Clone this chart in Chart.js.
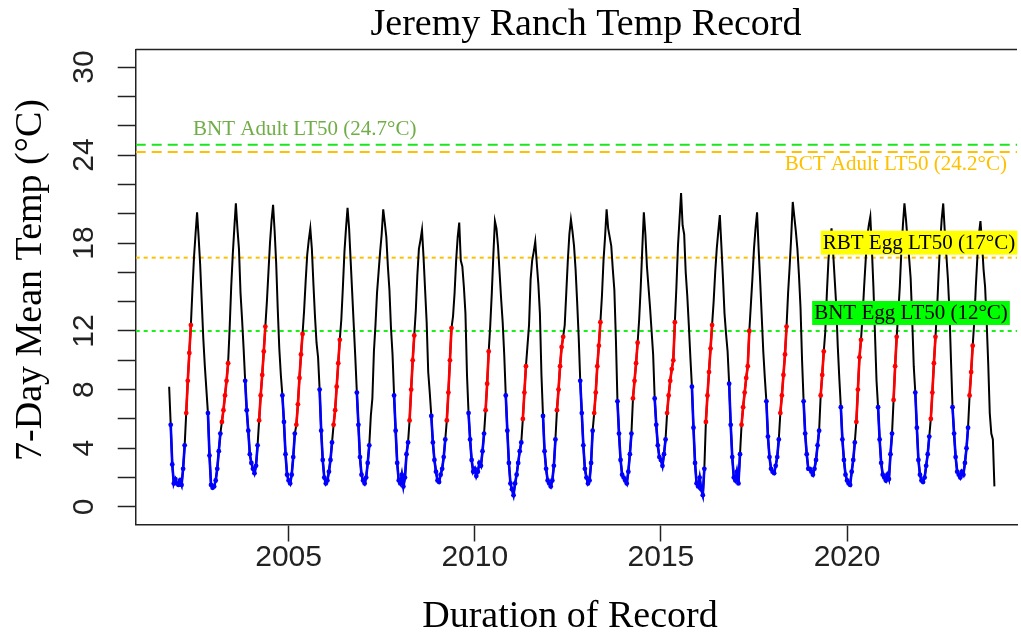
<!DOCTYPE html>
<html>
<head>
<meta charset="utf-8">
<script src="https://cdn.jsdelivr.net/npm/chart.js@4.4.1/dist/chart.umd.min.js"></script>
<style>
  html, body { margin: 0; padding: 0; background: #fff; }
  canvas { display: block; }
</style>
</head>
<body>
<canvas id="tempChart" width="1021" height="635"></canvas>
<script>
// 7-day mean temp, one value per half month (1st, 16th)
var years = [2001, 2002, 2003, 2004, 2005, 2006, 2007, 2008, 2009, 2010, 2011, 2012,
             2013, 2014, 2015, 2016, 2017, 2018, 2019, 2020, 2021, 2022, 2023];

var t2001 = [null, null, null, null, null, null, null, null, null, null, null, null,
             null, null, null, null, null, null, null, 8.2, 5.6, 2.9, 1.6, 1.9];
var t2002 = [1.6, 1.5, 1.8, 1.5, 2.6, 4.2, 6.4, 8.6, 10.5, 12.4, 14.8, 17.0, 18.6, 20.1, 18.4, 16.5, 14.0, 11.5, 9.6, 8.0, 6.4, 3.5, 1.5, 1.3];
var t2003 = [1.4, 1.8, 2.6, 3.8, 5.0, 5.8, 6.6, 7.6, 8.6, 9.8, 12.2, 15.0, 17.2, 19.0, 20.7, 19.0, 17.6, 14.6, 12.8, 10.8, 8.6, 6.6, 5.2, 3.6];
var t2004 = [3.0, 2.6, 2.3, 2.8, 4.2, 5.9, 7.6, 9.0, 10.6, 12.3, 14.0, 16.0, 18.0, 19.5, 20.6, 18.8, 16.6, 13.5, 10.8, 9.0, 7.6, 5.8, 3.6, 2.2];
var t2005 = [1.8, 1.6, 2.2, 3.4, 5.0, 5.6, 7.0, 8.8, 10.4, 11.8, 13.4, 15.4, 17.2, 18.2, 19.0, 17.6, 15.2, 13.0, 11.2, 10.2, 8.0, 5.2, 3.2, 2.0];
var t2006 = [1.6, 1.8, 2.4, 3.2, 4.4, 5.6, 6.6, 8.2, 9.8, 11.4, 12.8, 15.0, 17.4, 19.0, 20.4, 19.0, 16.8, 14.6, 12.4, 10.2, 7.8, 5.6, 3.4, 2.2];
var t2007 = [1.8, 1.6, 2.0, 3.0, 4.2, 6.2, 7.4, 10.6, 12.4, 14.6, 16.0, 17.4, 18.6, 20.3, 19.4, 18.4, 16.4, 14.8, 12.2, 10.4, 7.6, 5.2, 3.0, 1.8];
var t2008 = [1.6, 2.2, 1.4, 2.0, 3.6, 4.4, 5.9, 8.0, 10.0, 11.7, 13.4, 15.8, 17.6, 18.2, 18.9, 17.0, 14.8, 12.6, 9.2, 7.8, 6.2, 4.4, 3.2, 2.4];
var t2009 = [1.8, 1.7, 2.2, 2.6, 3.4, 4.6, 5.9, 7.8, 10.0, 12.2, 13.0, 14.6, 16.8, 18.4, 19.4, 16.8, 16.4, 15.0, 13.2, 9.0, 6.4, 4.6, 3.2, 2.4];
var t2010 = [2.6, 2.1, 2.4, 3.0, 2.8, 3.8, 5.0, 6.6, 8.4, 10.6, 12.4, 14.6, 17.2, 19.5, 19.0, 17.8, 16.0, 14.2, 12.6, 10.4, 7.6, 5.2, 3.0, 1.6];
var t2011 = [1.2, 0.8, 1.6, 2.2, 3.0, 3.8, 4.4, 6.0, 7.8, 9.6, 11.0, 12.4, 15.5, 16.8, 17.4, 18.1, 16.6, 15.2, 13.2, 9.0, 6.2, 3.8, 2.6, 1.8];
var t2012 = [1.6, 1.4, 1.8, 2.8, 4.6, 6.6, 8.0, 9.6, 10.9, 11.6, 12.4, 14.6, 16.8, 18.6, 19.6, 18.8, 17.8, 16.2, 14.0, 11.6, 8.6, 6.4, 4.2, 2.6];
var t2013 = [2.0, 1.6, 1.8, 3.0, 5.2, 6.4, 7.8, 9.6, 11.0, 12.6, 14.4, 16.8, 18.4, 20.3, 19.0, 18.4, 17.8, 16.2, 14.8, 11.4, 7.2, 5.0, 3.2, 2.2];
var t2014 = [2.0, 1.8, 1.6, 2.4, 3.6, 5.0, 7.4, 8.6, 9.8, 11.2, 12.8, 15.0, 17.6, 20.1, 18.6, 16.4, 15.0, 13.6, 12.0, 10.4, 7.4, 5.6, 4.2, 3.4];
var t2015 = [3.2, 2.8, 3.6, 4.6, 6.4, 7.6, 8.6, 9.4, 10.0, 12.6, 15.0, 17.8, 19.6, 21.4, 19.2, 18.6, 16.0, 14.4, 12.4, 10.2, 8.2, 5.4, 3.0, 1.6];
var t2016 = [1.4, 2.0, 1.2, 0.8, 2.6, 5.8, 7.6, 9.2, 10.8, 12.4, 14.0, 16.0, 17.6, 18.8, 19.9, 17.8, 15.6, 13.2, 11.8, 10.6, 8.4, 5.6, 3.4, 2.0];
var t2017 = [1.8, 2.4, 1.6, 3.6, 5.6, 6.8, 7.8, 8.8, 9.6, 12.0, 13.8, 15.6, 17.6, 19.0, 20.1, 17.6, 15.4, 13.0, 10.6, 8.8, 7.2, 4.8, 3.4, 2.6];
var t2018 = [2.4, 2.3, 2.8, 3.4, 4.6, 6.4, 7.6, 9.0, 10.4, 12.3, 14.6, 16.4, 18.4, 20.8, 19.8, 18.8, 17.6, 15.8, 13.6, 10.0, 7.2, 5.0, 3.6, 2.6];
var t2019 = [2.6, 2.4, 2.2, 2.6, 3.2, 4.2, 5.2, 7.6, 9.0, 10.6, 12.0, 14.6, 16.8, 18.2, 19.0, 17.4, 15.6, 13.8, 11.0, 8.8, 6.8, 4.6, 3.2, 2.2];
var t2020 = [1.8, 1.6, 1.5, 2.4, 3.2, 4.4, 5.8, 8.0, 10.2, 11.4, 13.0, 15.0, 16.8, 18.4, 19.2, 19.8, 17.6, 15.0, 11.8, 8.6, 6.8, 4.6, 3.0, 2.2];
var t2021 = [2.0, 1.8, 2.2, 1.9, 3.6, 5.0, 7.3, 9.6, 11.6, 13.2, 15.0, 17.4, 19.2, 20.7, 19.6, 18.2, 17.0, 15.6, 12.8, 9.6, 7.8, 5.4, 3.2, 2.2];
var t2022 = [1.8, 1.7, 2.0, 2.8, 3.6, 4.8, 6.0, 7.8, 9.8, 11.6, 13.4, 15.8, 18.0, 19.6, 20.7, 18.8, 17.2, 15.6, 13.4, 10.0, 6.8, 5.0, 3.4, 2.4];
var t2023 = [2.2, 2.0, 2.4, 2.2, 3.0, 4.0, 5.4, 7.6, 9.2, 11.0, 12.6, 15.0, 17.0, 18.6, 19.5, 18.0, 16.2, 15.0, 12.6, 9.8, 6.4, 5.0, 4.6, 1.4];

var yearTemps = [t2001, t2002, t2003, t2004, t2005, t2006, t2007, t2008, t2009, t2010, t2011, t2012,
                 t2013, t2014, t2015, t2016, t2017, t2018, t2019, t2020, t2021, t2022, t2023];

// reference lines
var limitValues = [24.7, 24.2, 17, 12];
var limitLabels = ['BNT Adult LT50 (24.7°C)', 'BCT Adult LT50 (24.2°C)', 'RBT Egg LT50 (17°C)', 'BNT Egg LT50 (12°C)'];

var yTickValues = [0, 2, 4, 6, 8, 10, 12, 14, 16, 18, 20, 22, 24, 26, 28, 30];
var yTickLabels = [0, 4, 8, 12, 18, 24, 30];
var xTickYears = [2005, 2010, 2015, 2020];

// egg period colouring
var bntEggLimit = 5.6;     // winter points below this are blue
var rbtEggRange = [5.6, 12.6];
var rbtSkipYears = [2007];
var bntEggEnd = 2023.8;

var allPts = [], bntPts = [], rbtPts = [];
years.forEach(function (yr, k) {
  yearTemps[k].forEach(function (v, i) {
    if (v === null) return;
    var x = yr + i / 24;
    var isBlue = (i >= 20 || (i <= 7 && v < bntEggLimit)) && x < bntEggEnd;
    var isRed = !isBlue && i >= 3 && i <= 9 && v >= rbtEggRange[0] && v <= rbtEggRange[1] &&
                rbtSkipYears.indexOf(yr) < 0;
    allPts.push({x: x, y: v});
    bntPts.push({x: x, y: isBlue ? v : null});
    rbtPts.push({x: x, y: isRed ? v : null});
  });
});

var serif = '"Liberation Serif", "Times New Roman", serif';
var sans = '"Liberation Sans", Arial, sans-serif';

var decor = {
  id: 'decor',
  beforeDatasetsDraw: function (chart) {
    var ctx = chart.ctx, a = chart.chartArea, ys = chart.scales.y;
    var colors = ['#19e619', '#ffc000', '#ffc000', '#19f019'];
    var dashes = [[10, 6], [10, 6], [4, 4], [4, 4]];
    ctx.save();
    ctx.beginPath();
    ctx.rect(a.left, a.top, a.right - a.left, a.bottom - a.top);
    ctx.clip();
    limitValues.forEach(function (v, i) {
      var py = ys.getPixelForValue(v);
      ctx.strokeStyle = colors[i];
      ctx.lineWidth = 2;
      ctx.setLineDash(dashes[i]);
      ctx.beginPath();
      ctx.moveTo(a.left, py);
      ctx.lineTo(a.right, py);
      ctx.stroke();
    });
    ctx.restore();
  },
  afterDatasetsDraw: function (chart) {
    var ctx = chart.ctx, ys = chart.scales.y;
    ctx.save();
    ctx.font = '21px ' + serif;
    ctx.textBaseline = 'middle';

    ctx.fillStyle = '#70ad47';
    ctx.textAlign = 'left';
    ctx.fillText(limitLabels[0], 193, ys.getPixelForValue(limitValues[0]) - 15);

    ctx.fillStyle = '#ffc000';
    ctx.textAlign = 'right';
    ctx.fillText(limitLabels[1], 1007, ys.getPixelForValue(limitValues[1]) + 12);

    // boxed labels
    var boxed = [[2, '#ffff00', 919, 15], [3, '#00ff00', 911, 18]];
    boxed.forEach(function (b) {
      var txt = limitLabels[b[0]];
      var w = ctx.measureText(txt).width + 4;
      var cy = ys.getPixelForValue(limitValues[b[0]]) - b[3];
      ctx.fillStyle = b[1];
      ctx.fillRect(b[2] - w / 2, cy - 12, w, 24);
      ctx.fillStyle = '#000';
      ctx.textAlign = 'center';
      ctx.fillText(txt, b[2], cy + 1);
    });
    ctx.restore();
  },
  afterDraw: function (chart) {
    var ctx = chart.ctx, a = chart.chartArea, ys = chart.scales.y;
    ctx.save();
    // top of the box
    ctx.strokeStyle = '#222';
    ctx.lineWidth = 1.5;
    ctx.beginPath();
    ctx.moveTo(a.left, a.top);
    ctx.lineTo(a.right, a.top);
    ctx.stroke();

    // rotated y tick labels
    ctx.fillStyle = '#222';
    ctx.font = '30px ' + sans;
    ctx.textAlign = 'center';
    ctx.textBaseline = 'alphabetic';
    yTickLabels.forEach(function (v) {
      ctx.save();
      ctx.translate(93, ys.getPixelForValue(v));
      ctx.rotate(-Math.PI / 2);
      ctx.fillText(String(v), 0, 0);
      ctx.restore();
    });

    ctx.fillStyle = '#000';
    ctx.font = '38px ' + serif;
    ctx.fillText('Jeremy Ranch Temp Record', 586, 35);
    ctx.fillText('Duration of Record', 570, 627);

    ctx.save();
    ctx.translate(41, 280);
    ctx.rotate(-Math.PI / 2);
    ctx.fillText('7-Day Mean Temp (°C)', 0, 0);
    ctx.restore();
    ctx.restore();
  }
};

var ctx = document.getElementById('tempChart').getContext('2d');
var tempChart = new Chart(ctx, {
  type: 'line',
  data: {
    datasets: [{
      label: 'BNT egg period',
      data: bntPts,
      borderColor: '#0000ff',
      backgroundColor: '#0000ff',
      borderWidth: 2.6,
      pointRadius: 2.4,
      pointBorderWidth: 0,
      spanGaps: false
    }, {
      label: 'RBT egg period',
      data: rbtPts,
      borderColor: '#ff0000',
      backgroundColor: '#ff0000',
      borderWidth: 2.6,
      pointRadius: 2.4,
      pointBorderWidth: 0,
      spanGaps: false
    }, {
      label: '7-Day Mean Temp',
      data: allPts,
      borderColor: '#000',
      borderWidth: 2,
      pointRadius: 0,
      spanGaps: false
    }]
  },
  options: {
    responsive: false,
    animation: false,
    devicePixelRatio: 1,
    layout: { padding: { top: 49.5, left: 0, right: 0, bottom: 0 } },
    plugins: { legend: { display: false }, tooltip: { enabled: false } },
    scales: {
      x: {
        type: 'linear',
        min: 2000.893,
        max: 2024.565,
        afterBuildTicks: function (s) { s.ticks = xTickYears.map(function (v) { return {value: v}; }); },
        afterFit: function (s) { s.height = 110.5; },
        grid: { drawOnChartArea: false, tickLength: 17, tickColor: '#222', tickWidth: 1.5 },
        border: { color: '#222', width: 1.5 },
        ticks: {
          callback: function (v) { return String(v); },
          font: { family: sans, size: 30 },
          color: '#222',
          padding: -2,
          maxRotation: 0,
          autoSkip: false
        }
      },
      y: {
        min: -1.2,
        max: 31.2,
        afterBuildTicks: function (s) { s.ticks = yTickValues.map(function (v) { return {value: v}; }); },
        afterFit: function (s) { s.width = 135.7; },
        grid: { drawOnChartArea: false, tickLength: 18, tickColor: '#222', tickWidth: 1.5 },
        border: { color: '#222', width: 1.5 },
        ticks: { display: false }
      }
    }
  },
  plugins: [decor]
});
</script>
</body>
</html>
